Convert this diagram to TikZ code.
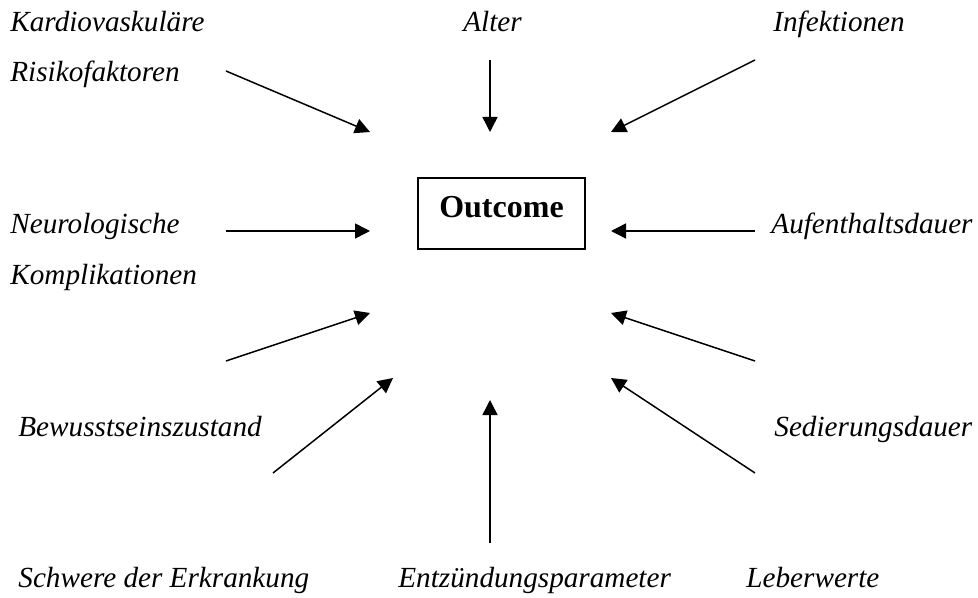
\documentclass[tikz,border=0pt]{standalone}
\usepackage{fontspec}
\setmainfont{Liberation Serif}
\usetikzlibrary{arrows.meta}

\tikzset{
  faktor/.style={inner sep=0pt, anchor=base west, font=\fontsize{14.6}{17}\selectfont\itshape},
  pfeil/.style={line width=0.75pt, -{Triangle[length=7.5pt,width=7.5pt]}},
}

\begin{document}
\begin{tikzpicture}[x=0.5pt,y=-0.5pt]
  \useasboundingbox (0,0) rectangle (978,598);

  % Mitte.
  \node[draw, line width=1pt, minimum width=83.5pt, minimum height=35.5pt,
        inner sep=0pt, text depth=6.5pt, font=\fontsize{16}{19}\selectfont\bfseries]
        (outcome) at (501.5,213.5) {Outcome};

  % Einflussfaktoren.
  \node[faktor] (kardio)   at (10,32)   {Kardiovaskuläre};
  \node[faktor] (risiko)   at (10,82)   {Risikofaktoren};
  \node[faktor] (alter)    at (463,32)  {Alter};
  \node[faktor] (infekt)   at (773,32)  {Infektionen};
  \node[faktor] (neuro)    at (10,234)  {Neurologische};
  \node[faktor] (kompl)    at (10,285)  {Komplikationen};
  \node[faktor] (aufenth)  at (771,234) {Aufenthaltsdauer};
  \node[faktor] (bewusst)  at (18,436)  {Bewusstseinszustand};
  \node[faktor] (sedier)   at (774,436) {Sedierungsdauer};
  \node[faktor] (schwere)  at (18,587)  {Schwere der Erkrankung};
  \node[faktor] (entz)     at (398,587) {Entzündungsparameter};
  \node[faktor] (leber)    at (746,587) {Leberwerte};

  % Pfeilanfaenge.
  \coordinate (kardio-a)  at (226,71);
  \coordinate (alter-a)   at (490,60);
  \coordinate (infekt-a)  at (755,60);
  \coordinate (neuro-a)   at (226,231);
  \coordinate (aufenth-a) at (755,231);
  \coordinate (kompl-a)   at (226,361);
  \coordinate (leber-a)   at (755,361);
  \coordinate (bewusst-a) at (273,473);
  \coordinate (sedier-a)  at (755,473);
  \coordinate (entz-a)    at (490,543);

  % Pfeilspitzen.
  \coordinate (kardio-e)  at (370,132);
  \coordinate (alter-e)   at (490,132);
  \coordinate (infekt-e)  at (611,132);
  \coordinate (neuro-e)   at (370,231);
  \coordinate (aufenth-e) at (611,231);
  \coordinate (kompl-e)   at (370,313);
  \coordinate (leber-e)   at (611,313);
  \coordinate (bewusst-e) at (393,378);
  \coordinate (sedier-e)  at (611,378);
  \coordinate (entz-e)    at (490,400);

  \draw[pfeil] (kardio-a)  -- (kardio-e);
  \draw[pfeil] (alter-a)   -- (alter-e);
  \draw[pfeil] (infekt-a)  -- (infekt-e);
  \draw[pfeil] (neuro-a)   -- (neuro-e);
  \draw[pfeil] (aufenth-a) -- (aufenth-e);
  \draw[pfeil] (kompl-a)   -- (kompl-e);
  \draw[pfeil] (leber-a)   -- (leber-e);
  \draw[pfeil] (bewusst-a) -- (bewusst-e);
  \draw[pfeil] (sedier-a)  -- (sedier-e);
  \draw[pfeil] (entz-a)    -- (entz-e);
\end{tikzpicture}
\end{document}
